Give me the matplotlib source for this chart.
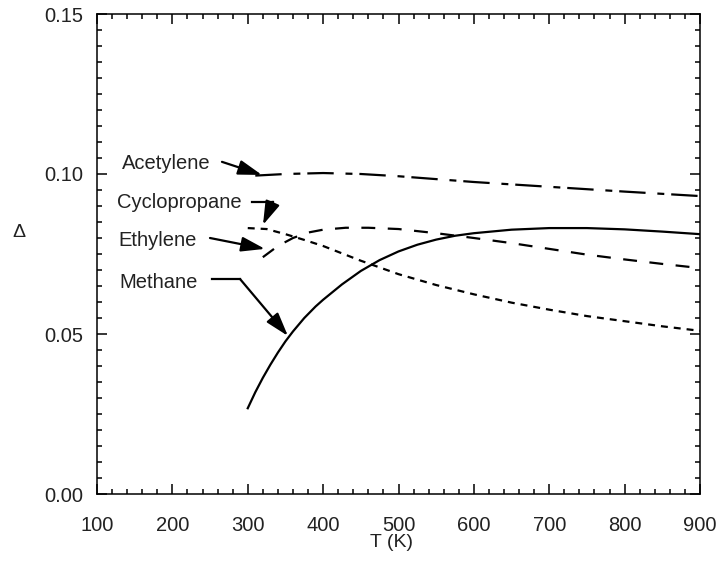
import numpy as np
import matplotlib
matplotlib.use("Agg")
import matplotlib.pyplot as plt
from matplotlib.ticker import MultipleLocator

plt.rcParams['font.family'] = ['Liberation Sans', 'DejaVu Sans']
plt.rcParams['lines.scale_dashes'] = False

# Delta vs temperature
T_meth = [300, 310, 320, 330, 340, 350, 360, 375, 390, 400, 425, 450, 475, 500,
          525, 550, 575, 600, 650, 700, 750, 800, 850, 900]
d_meth = [0.0268, 0.0318, 0.0363, 0.0404, 0.0442, 0.0477, 0.0508, 0.0550, 0.0586, 0.0607,
          0.0655, 0.0697, 0.0731, 0.0758, 0.0779, 0.0795, 0.0807, 0.0815,
          0.0826, 0.0831, 0.0831, 0.0827, 0.0820, 0.0812]

T_cyc = [300, 325, 350, 375, 400, 450, 500, 550, 600, 650, 700, 750, 800, 850, 900]
d_cyc = [0.0831, 0.0828, 0.0812, 0.0794, 0.0775, 0.0729, 0.0687, 0.0653, 0.0624,
         0.0598, 0.0576, 0.0556, 0.0540, 0.0524, 0.0510]

T_eth = [320, 340, 360, 380, 400, 430, 460, 500, 550, 600, 650, 700, 750, 800, 850, 900]
d_eth = [0.0740, 0.0775, 0.0800, 0.0817, 0.0826, 0.0832, 0.0832, 0.0828, 0.0815,
         0.0800, 0.0784, 0.0766, 0.0748, 0.0733, 0.0719, 0.0706]

T_ace = [310, 350, 400, 450, 500, 600, 700, 800, 900]
d_ace = [0.0995, 0.1000, 0.1003, 0.1000, 0.0993, 0.0975, 0.0960, 0.0945, 0.0931]

# label text, text position, arrow tail, arrow tip (leader = optional horizontal stub)
labels = ['Acetylene', 'Cyclopropane', 'Ethylene', 'Methane']
text_pos = [(133, 0.1034), (127, 0.0910), (128, 0.0791), (130, 0.0661)]
leader = [None, ((305.6, 0.0913), (333.4, 0.0913)), None, ((252.5, 0.0672), (289.7, 0.0672))]
tails = [(265.8, 0.1038), (333.4, 0.0913), (249.9, 0.0800), (289.7, 0.0672)]
tips = [(318.8, 0.0997), (320.2, 0.0841), (322.8, 0.0766), (353.3, 0.0494)]

fig = plt.figure(figsize=(7.17, 5.62), dpi=100)
ax = fig.add_axes([97 / 717, 68 / 562, 603 / 717, 480 / 562])

ax.plot(T_meth, d_meth, color='black', lw=1.6)
ax.plot(T_cyc, d_cyc, color='black', lw=1.6, dashes=(5, 4.3))
ax.plot(T_eth, d_eth, color='black', lw=1.6, dashes=(10, 9))
ax.plot(T_ace, d_ace, color='black', lw=1.6, dashes=(19, 8.5, 5, 5))

for lab, tp, ld, tl, tip in zip(labels, text_pos, leader, tails, tips):
    ax.text(tp[0], tp[1], lab, fontsize=14.5, ha='left', va='center', color='#222222')
    if ld is not None:
        ax.plot([ld[0][0], ld[1][0]], [ld[0][1], ld[1][1]], color='black', lw=1.6)
    ax.annotate('', xy=tip, xytext=tl,
                arrowprops=dict(arrowstyle='-|>,head_length=0.8,head_width=0.25',
                                mutation_scale=18, lw=1.6, color='black',
                                shrinkA=0, shrinkB=0))

ax.set_xlim(100, 900)
ax.set_ylim(0, 0.15)
ax.xaxis.set_major_locator(MultipleLocator(100))
ax.xaxis.set_minor_locator(MultipleLocator(20))
ax.yaxis.set_major_locator(MultipleLocator(0.05))
ax.yaxis.set_minor_locator(MultipleLocator(0.005))
ax.yaxis.set_major_formatter(matplotlib.ticker.FormatStrFormatter('%.2f'))
ax.tick_params(which='both', direction='in', top=True, right=True, width=1.1)
ax.tick_params(which='major', length=7, labelsize=14.5, labelcolor='#222222')
ax.tick_params(which='minor', length=3.5)
ax.tick_params(axis='x', which='major', pad=16)
ax.tick_params(axis='y', which='major', pad=10)
for s in ax.spines.values():
    s.set_linewidth(1.1)

ax.set_xlabel('T (K)', fontsize=14, color='#222222')
ax.xaxis.set_label_coords(0.489, -0.083)
ax.set_ylabel('Δ', fontsize=14, rotation=0, ha='center', va='center', color='#222222')
ax.yaxis.set_label_coords(-0.129, 0.544)

fig.savefig('out.png', dpi=100)
